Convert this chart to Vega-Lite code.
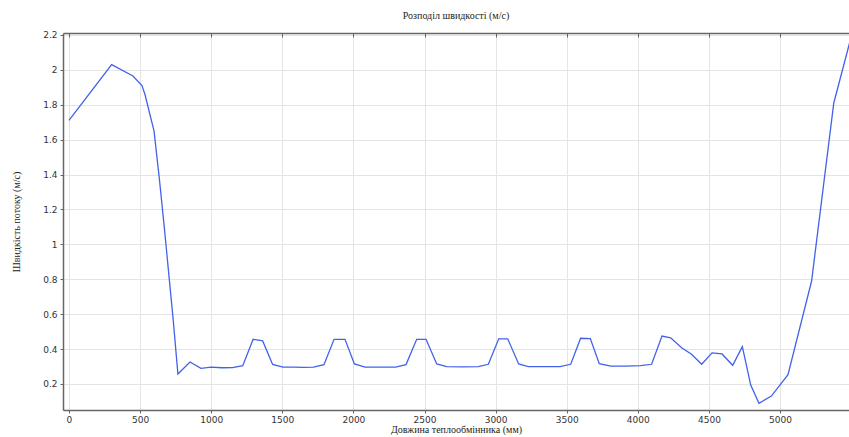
{
  "$schema": "https://vega.github.io/schema/vega-lite/v6.json",
  "width": 786,
  "height": 377,
  "autosize": "none",
  "padding": {"left": 63, "top": 33, "right": 0, "bottom": 27},
  "background": "white",
  "title": {"text": "Розподіл швидкості (м/с)", "font": "Liberation Serif", "fontSize": 10, "fontWeight": "normal", "color": "#222", "offset": 10},
  "config": {"view": {"stroke": null}},
  "data": {"values": [
    {"x": 0, "v": 1.71}, {"x": 300, "v": 2.03}, {"x": 450, "v": 1.965}, {"x": 513, "v": 1.91}, {"x": 534, "v": 1.86},
    {"x": 598, "v": 1.65}, {"x": 635, "v": 1.38}, {"x": 670, "v": 1.1}, {"x": 733, "v": 0.567}, {"x": 766, "v": 0.257},
    {"x": 851, "v": 0.326}, {"x": 928, "v": 0.29}, {"x": 1000, "v": 0.297}, {"x": 1075, "v": 0.293}, {"x": 1150, "v": 0.294},
    {"x": 1222, "v": 0.305}, {"x": 1295, "v": 0.456}, {"x": 1362, "v": 0.447}, {"x": 1432, "v": 0.312}, {"x": 1505, "v": 0.297},
    {"x": 1580, "v": 0.297}, {"x": 1650, "v": 0.295}, {"x": 1720, "v": 0.297}, {"x": 1793, "v": 0.311}, {"x": 1864, "v": 0.456},
    {"x": 1941, "v": 0.456}, {"x": 2007, "v": 0.315}, {"x": 2082, "v": 0.297}, {"x": 2190, "v": 0.297}, {"x": 2297, "v": 0.297},
    {"x": 2370, "v": 0.311}, {"x": 2445, "v": 0.456}, {"x": 2511, "v": 0.456}, {"x": 2586, "v": 0.315}, {"x": 2656, "v": 0.299},
    {"x": 2770, "v": 0.298}, {"x": 2879, "v": 0.3}, {"x": 2949, "v": 0.313}, {"x": 3022, "v": 0.459}, {"x": 3085, "v": 0.459},
    {"x": 3162, "v": 0.315}, {"x": 3230, "v": 0.3}, {"x": 3340, "v": 0.3}, {"x": 3453, "v": 0.3}, {"x": 3528, "v": 0.313},
    {"x": 3598, "v": 0.462}, {"x": 3666, "v": 0.46}, {"x": 3729, "v": 0.316}, {"x": 3809, "v": 0.302}, {"x": 3915, "v": 0.302},
    {"x": 4020, "v": 0.305}, {"x": 4097, "v": 0.313}, {"x": 4170, "v": 0.475}, {"x": 4231, "v": 0.465}, {"x": 4308, "v": 0.408},
    {"x": 4378, "v": 0.37}, {"x": 4449, "v": 0.313}, {"x": 4522, "v": 0.378}, {"x": 4592, "v": 0.372}, {"x": 4667, "v": 0.307},
    {"x": 4735, "v": 0.414}, {"x": 4794, "v": 0.194}, {"x": 4852, "v": 0.089}, {"x": 4939, "v": 0.131}, {"x": 5056, "v": 0.253},
    {"x": 5222, "v": 0.79}, {"x": 5378, "v": 1.81}, {"x": 5520, "v": 2.25}
  ]},
  "layer": [
    {
      "mark": {"type": "line", "color": "#4262ea", "strokeWidth": 1.3, "clip": true, "interpolate": "linear"},
      "encoding": {
        "x": {"field": "x", "type": "quantitative",
          "scale": {"domain": [-42, 5485], "nice": false, "zero": false},
          "axis": {"title": "Довжина теплообмінника (мм)", "titleFont": "Liberation Serif", "titleFontSize": 10, "titleFontWeight": "normal", "titleColor": "#222", "titlePadding": 0,
            "values": [0, 500, 1000, 1500, 2000, 2500, 3000, 3500, 4000, 4500, 5000], "format": "d",
            "labelFont": "DejaVu Sans", "labelFontSize": 9, "labelColor": "#333", "labelPadding": 2,
            "grid": true, "gridColor": "#e4e4e4", "gridWidth": 1,
            "domainColor": "#666", "domainWidth": 1.5, "tickColor": "#666", "tickSize": 3}},
        "y": {"field": "v", "type": "quantitative",
          "scale": {"domain": [0.051, 2.211], "nice": false, "zero": false},
          "axis": {"title": "Швидкість потоку (м/с)", "titleFont": "Liberation Serif", "titleFontSize": 10, "titleFontWeight": "normal", "titleColor": "#222", "titlePadding": 21,
            "values": [0.2, 0.4, 0.6, 0.8, 1, 1.2, 1.4, 1.6, 1.8, 2, 2.2], "format": "~g",
            "labelFont": "DejaVu Sans", "labelFontSize": 9, "labelColor": "#333", "labelPadding": 3,
            "grid": true, "gridColor": "#e4e4e4", "gridWidth": 1,
            "domainColor": "#666", "domainWidth": 1.5, "tickColor": "#666", "tickSize": 3}}
      }
    },
    {
      "mark": {"type": "rule", "opacity": 0},
      "encoding": {
        "x": {"field": "x", "type": "quantitative", "aggregate": "min",
          "axis": {"orient": "top", "title": null, "labels": false, "grid": false,
            "values": [0, 500, 1000, 1500, 2000, 2500, 3000, 3500, 4000, 4500, 5000],
            "domainColor": "#666", "domainWidth": 1.5, "tickColor": "#666", "tickSize": -4}}
      }
    }
  ],
  "resolve": {"axis": {"x": "independent"}, "scale": {"x": "shared"}}
}
